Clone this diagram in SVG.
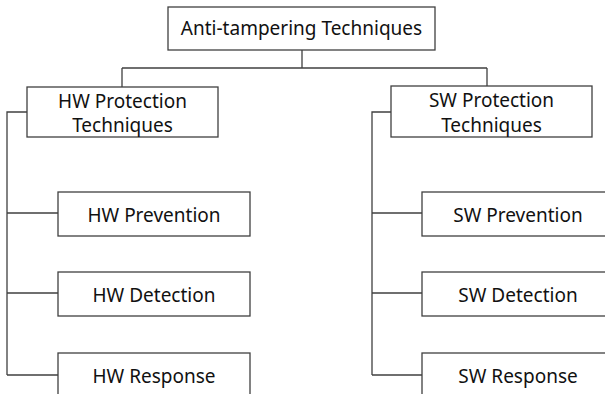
<svg xmlns="http://www.w3.org/2000/svg" width="605" height="394" viewBox="0 0 605 394">
<style>
.box{fill:#fff;stroke:#404040;stroke-width:1.3}
.ln{fill:none;stroke:#404040;stroke-width:1.3}
text{font-family:"Noto Sans","Open Sans",sans-serif;font-size:19px;fill:#111;text-anchor:middle}
</style>
<rect width="605" height="394" fill="#fff"/>
<g id="connectors">
<path class="ln" d="M302 50V68M122 68H487M122 68V87M487 68V86"/>
<path class="ln" d="M27 112H7V375M7 213H58M7 293H58M7 375H58"/>
<path class="ln" d="M391 112H372V375M372 213H422M372 293H422M372 375H422"/>
</g>
<g id="root"><rect class="box" x="168" y="7" width="267" height="43"/><text x="301.5" y="35">Anti-tampering Techniques</text></g>
<g id="hw"><rect class="box" x="27" y="87" width="191" height="50"/><text x="122.5" y="108">HW Protection</text><text x="122.5" y="132">Techniques</text></g>
<g id="sw"><rect class="box" x="391" y="86" width="201" height="51"/><text x="491.5" y="107">SW Protection</text><text x="491.5" y="132">Techniques</text></g>
<g id="hwp"><rect class="box" x="58" y="192" width="192" height="44"/><text x="154" y="222">HW Prevention</text></g>
<g id="hwd"><rect class="box" x="58" y="272" width="192" height="44"/><text x="154" y="302">HW Detection</text></g>
<g id="hwr"><rect class="box" x="58" y="353" width="192" height="44"/><text x="154" y="383">HW Response</text></g>
<g id="swp"><rect class="box" x="422" y="192" width="192" height="44"/><text x="518" y="222">SW Prevention</text></g>
<g id="swd"><rect class="box" x="422" y="272" width="192" height="44"/><text x="518" y="302">SW Detection</text></g>
<g id="swr"><rect class="box" x="422" y="353" width="192" height="44"/><text x="518" y="383">SW Response</text></g>
</svg>
